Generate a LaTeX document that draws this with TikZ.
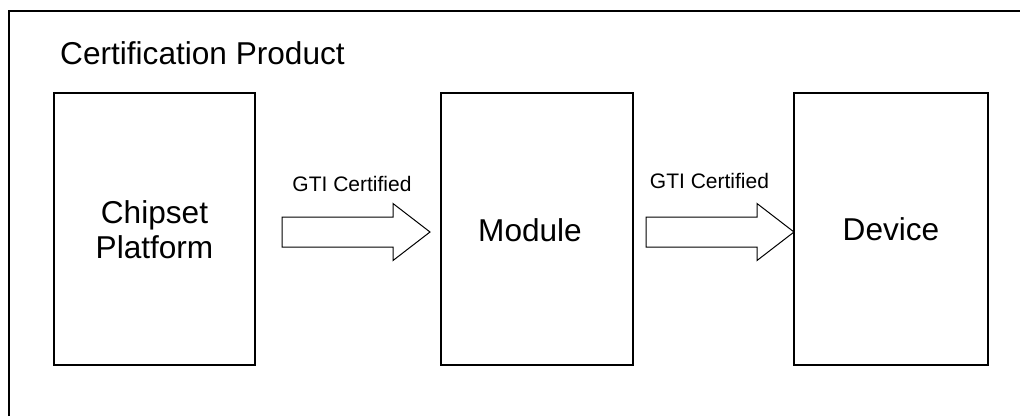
\documentclass[tikz,border=0pt]{standalone}
\usepackage{fontspec}
\setmainfont{Liberation Sans}
\usetikzlibrary{calc}
\begin{document}
\begin{tikzpicture}[x=1pt,y=-1pt,
  box/.style={draw=black, line width=2pt, inner sep=0pt, outer sep=0pt},
  bigtxt/.style={anchor=base, inner sep=0pt, font=\fontsize{31.6}{36}\selectfont},
  smalltxt/.style={anchor=base, inner sep=0pt, font=\fontsize{21}{24}\selectfont},
  blockarrow/.pic={
    \draw[line width=1pt, line join=miter, fill=white]
      (-148,-15) -- (-37,-15) -- (-37,-28.5) -- (0,0) -- (-37,28.5) -- (-37,15) -- (-148,15) -- cycle;
  }]
\useasboundingbox (0,0) rectangle (1020,416);
\fill[white] (0,0) rectangle (1020,416);
% outer frame
\draw[line width=1.3pt] (9,416) -- (9,11) -- (1020,11);
\node[smalltxt, anchor=base west, font=\fontsize{31.6}{36}\selectfont] (title) at (60,64) {Certification Product};
% boxes
\node[box, minimum width=201pt, minimum height=272pt] (chip) at (154.5,229) {};
\node[box, minimum width=192pt, minimum height=272pt] (mod) at (537,229) {};
\node[box, minimum width=194pt, minimum height=272pt] (dev) at (891,229) {};
% box texts
\node[bigtxt] (chipA) at (154.5,223) {Chipset};
\node[bigtxt] (chipB) at (154.5,258) {Platform};
\node[bigtxt] (modT) at (530,241) {Module};
\node[bigtxt] (devT) at (891,240.5) {Device};
% arrows
\coordinate (t1) at ($(mod.west)+(-11,3)$);
\coordinate (t2) at ($(dev.west)+(0,3)$);
\pic at (t1) {blockarrow};
\pic at (t2) {blockarrow};
\node[smalltxt] (lab1) at (352,191.5) {GTI Certified};
\node[smalltxt] (lab2) at (709.5,188) {GTI Certified};
\end{tikzpicture}
\end{document}
